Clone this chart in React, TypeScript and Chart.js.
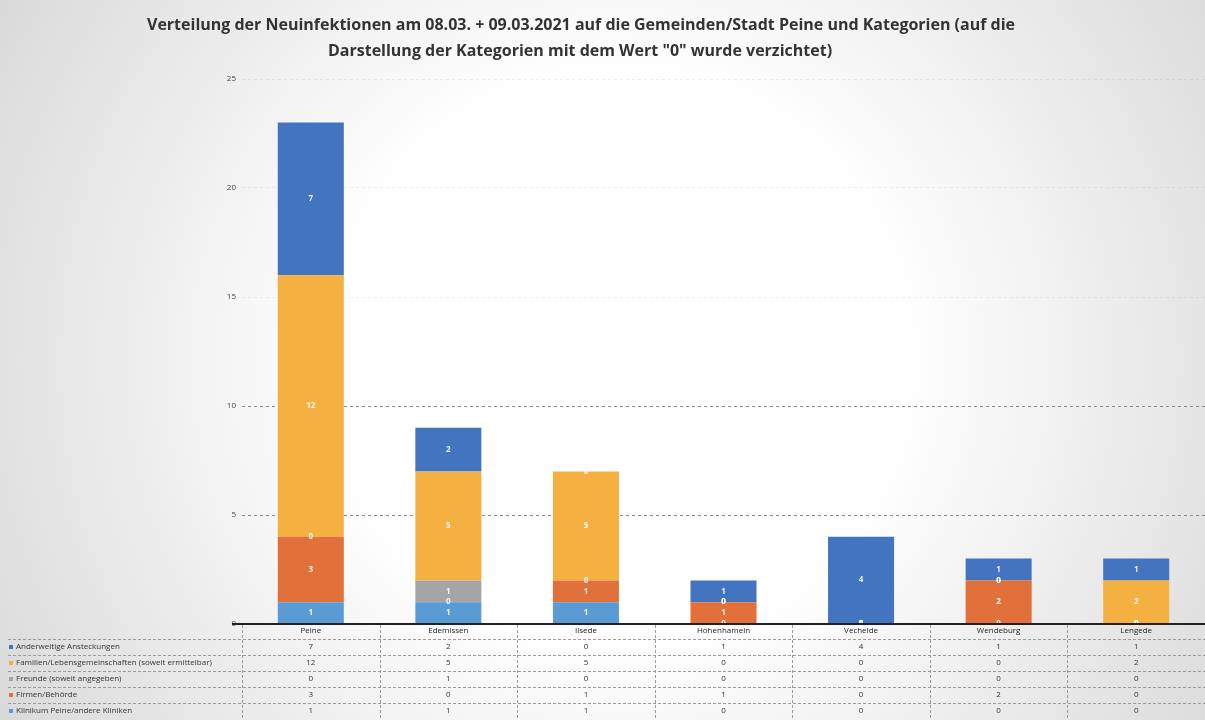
import React, { useEffect, useRef } from 'react';
import { Chart, registerables } from 'chart.js';
Chart.register(...registerables);

const categories = ['Peine', 'Edemissen', 'Ilsede', 'Hohenhameln', 'Vechelde', 'Wendeburg', 'Lengede'];
const anderweitige = [7, 2, 0, 1, 4, 1, 1];
const familien = [12, 5, 5, 0, 0, 0, 2];
const freunde = [0, 1, 0, 0, 0, 0, 0];
const firmen = [3, 0, 1, 1, 0, 2, 0];
const klinikum = [1, 1, 1, 0, 0, 0, 0];
const yMax = 25;
const yStep = 5;
const titleLines = [
  'Verteilung der Neuinfektionen am 08.03. + 09.03.2021 auf die Gemeinden/Stadt Peine und Kategorien (auf die',
  'Darstellung der Kategorien mit dem Wert "0" wurde verzichtet)',
];

// stacked bottom -> top
const series = [
  { name: 'Klinikum Peine/andere Kliniken', data: klinikum, color: '#5b9bd5' },
  { name: 'Firmen/Behörde', data: firmen, color: '#e2703a' },
  { name: 'Freunde (soweit angegeben)', data: freunde, color: '#a5a5a5' },
  { name: 'Familien/Lebensgemeinschaften (soweit ermittelbar)', data: familien, color: '#f5b042' },
  { name: 'Anderweitige Ansteckungen', data: anderweitige, color: '#4374c0' },
];

const FONT = '"Open Sans", "Liberation Sans", sans-serif';

const decorPlugin = {
  id: 'decor',
  beforeDraw(chart: any) {
    const { ctx, width, height } = chart;
    ctx.save();
    const g = ctx.createRadialGradient(620, 360, 280, 620, 360, 840);
    g.addColorStop(0, '#ffffff');
    g.addColorStop(1, '#cfcfcf');
    ctx.fillStyle = g;
    ctx.fillRect(0, 0, width, height);
    ctx.restore();
  },
  afterDatasetsDraw(chart: any) {
    const { ctx } = chart;
    ctx.save();
    ctx.font = `bold 8px ${FONT}`;
    ctx.fillStyle = 'rgba(255,255,255,0.9)';
    ctx.textAlign = 'center';
    ctx.textBaseline = 'middle';
    chart.data.datasets.forEach((ds: any, di: number) => {
      const meta = chart.getDatasetMeta(di);
      meta.data.forEach((el: any, i: number) => {
        const v = ds.data[i];
        const y = (el.y + el.base) / 2;
        ctx.fillText(String(v), el.x, y);
      });
    });
    ctx.restore();
  },
  afterDraw(chart: any) {
    const { ctx, chartArea, width } = chart;
    const xScale = chart.scales.x;
    ctx.save();
    // title
    ctx.fillStyle = '#333333';
    ctx.textAlign = 'center';
    ctx.textBaseline = 'middle';
    ctx.font = `bold 16px ${FONT}`;
    ctx.fillText(titleLines[0], 581, 25, 868);
    ctx.fillText(titleLines[1], 580, 51, 512);

    // axis line
    const axisY = chartArea.bottom;
    ctx.strokeStyle = '#222222';
    ctx.lineWidth = 2;
    ctx.beginPath();
    ctx.moveTo(232, axisY);
    ctx.lineTo(width, axisY);
    ctx.stroke();

    // table
    const rows = [...series].reverse();
    const rowCenters = [647, 663, 679, 695, 711];
    const rowH = 16;
    const left = chartArea.left;
    const n = categories.length;
    const colW = (chartArea.right - chartArea.left) / n;

    ctx.lineWidth = 1;
    ctx.strokeStyle = '#9a9a9a';
    ctx.setLineDash([3, 2]);
    rowCenters.forEach((cy) => {
      ctx.beginPath();
      ctx.moveTo(8, cy - rowH / 2 + 0.5);
      ctx.lineTo(width, cy - rowH / 2 + 0.5);
      ctx.stroke();
    });
    for (let i = 0; i <= n; i++) {
      const x = Math.round(left + i * colW) + 0.5;
      ctx.beginPath();
      ctx.moveTo(x, axisY + 1);
      ctx.lineTo(x, 720);
      ctx.stroke();
    }
    ctx.setLineDash([]);

    // header (category labels)
    ctx.fillStyle = '#222222';
    ctx.font = `8px ${FONT}`;
    ctx.textAlign = 'center';
    categories.forEach((c, i) => {
      ctx.fillText(c, xScale.getPixelForValue(i), 631);
    });

    rows.forEach((s, r) => {
      const cy = rowCenters[r];
      ctx.fillStyle = s.color;
      ctx.fillRect(9, cy - 2, 4, 4);
      ctx.fillStyle = '#333333';
      ctx.font = `8px ${FONT}`;
      ctx.textAlign = 'left';
      ctx.fillText(s.name, 16, cy);
      ctx.textAlign = 'center';
      s.data.forEach((v, i) => {
        const x = xScale.getPixelForValue(i);
        ctx.fillText(String(v), x, cy);
      });
    });
    ctx.restore();
  },
};

export default function App() {
  const ref = useRef<HTMLCanvasElement | null>(null);
  useEffect(() => {
    if (!ref.current) return;
    const chart = new Chart(ref.current, {
      type: 'bar',
      data: {
        labels: categories,
        datasets: series.map((s) => ({
          label: s.name,
          data: s.data,
          backgroundColor: s.color,
          borderWidth: 0,
          categoryPercentage: 1,
          barPercentage: 0.48,
        })),
      },
      options: {
        animation: false,
        responsive: true,
        maintainAspectRatio: false,
        layout: { padding: { top: 79, left: 0, right: 0, bottom: 0 } },
        plugins: {
          legend: { display: false },
          title: { display: false },
          tooltip: { enabled: false },
        },
        scales: {
          x: {
            stacked: true,
            grid: { display: false },
            border: { display: false },
            ticks: { display: false },
            afterFit: (s: any) => { s.height = 96; },
          },
          y: {
            stacked: true,
            min: 0,
            max: yMax,
            ticks: { stepSize: yStep, font: { size: 8, family: FONT }, color: '#444444', padding: 6 },
            border: { display: false, dash: [3, 3] },
            grid: {
              drawTicks: false,
              color: (c: any) => (c.tick.value === 0 ? 'rgba(0,0,0,0)' : c.tick.value <= 10 ? '#8a8a8a' : 'rgba(0,0,0,0.06)'),
            },
            afterFit: (s: any) => { s.width = 242; },
          },
        },
      },
      plugins: [decorPlugin],
    });
    return () => chart.destroy();
  }, []);
  return (
    <div style={{ position: 'absolute', left: 0, top: 0, width: 1205, height: 720 }}>
      <canvas ref={ref} />
    </div>
  );
}
